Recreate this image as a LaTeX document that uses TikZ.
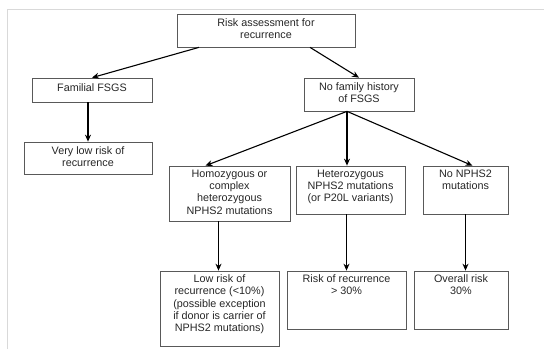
\documentclass[tikz,border=0pt]{standalone}
\usepackage{fontspec}
\setmainfont{Liberation Sans}
\usetikzlibrary{arrows.meta,calc}
\begin{document}
\begin{tikzpicture}[x=1pt,y=-1pt,
  box/.style={draw=black!65,line width=0.7pt,rectangle,inner sep=0pt},
  txt/.style={anchor=north,align=center,inner sep=0pt,font=\fontsize{10.8}{12.3}\selectfont,text=black!85},
  arr/.style={line width=1.1pt,-{Stealth[length=7pt,width=6pt]}}]
\useasboundingbox (0,0) rectangle (544,349);
\draw[black!15,line width=0.8pt] (7,349) -- (7,9) -- (544,9);
% boxes: corners in image pixels
\newcommand{\mkbox}[5]{\node[box,minimum width=#4-#2,minimum height=#5-#3] (#1) at ({(#2+#4)/2},{(#3+#5)/2}) {};}
\mkbox{top}{177}{14}{355}{47}
\mkbox{fam}{32}{78}{152}{102}
\mkbox{nofam}{304}{78}{414}{111}
\mkbox{vlow}{24}{142}{152}{174}
\mkbox{homo}{169}{166}{290}{221}
\mkbox{het}{296}{166}{405}{214}
\mkbox{nonp}{423}{166}{508}{214}
\mkbox{low}{160}{271}{279}{346}
\mkbox{rr}{287}{271}{406}{329}
\mkbox{ov}{414}{271}{508}{329}
% texts
\node[txt] (ttop) at ([yshift=-5pt]top.north) {Risk assessment for\\recurrence};
\node[txt] (tfam) at ([yshift=-6pt]fam.north) {Familial FSGS};
\node[txt] (tnofam) at ([yshift=-5pt]nofam.north) {No family history\\of FSGS};
\node[txt] (tvlow) at ([yshift=-5pt]vlow.north) {Very low risk of\\recurrence};
\node[txt] (thomo) at ([yshift=-4pt]homo.north) {Homozygous or\\complex\\heterozygous\\NPHS2 mutations};
\node[txt] (thet) at ([yshift=-4pt]het.north) {Heterozygous\\NPHS2 mutations\\(or P20L variants)};
\node[txt] (tnonp) at ([yshift=-4pt]nonp.north) {No NPHS2\\mutations};
\node[txt] (tlow) at ([yshift=-4pt]low.north) {Low risk of\\recurrence (<10\%)\\(possible exception\\if donor is carrier of\\NPHS2 mutations)};
\node[txt] (trr) at ([yshift=-4pt]rr.north) {Risk of recurrence\\> 30\%};
\node[txt] (tov) at ([yshift=-4pt]ov.north) {Overall risk\\30\%};
% connectors
\draw[arr] ([xshift=-67pt]top.south) -- (fam.north);
\draw[arr] ([xshift=44pt]top.south) -- (nofam.north);
\draw[arr] (fam.south -| vlow.north) -- (vlow.north);
\draw[arr] ([xshift=-12pt]nofam.south) -- ([xshift=-24pt]homo.north);
\draw[arr] ([xshift=-12pt]nofam.south) -- ([xshift=-12pt]nofam.south |- het.north);
\draw[arr] ([xshift=-12pt]nofam.south) -- ([xshift=7pt]nonp.north);
\draw[arr] ([xshift=-11pt]homo.south) -- ([xshift=-11pt]homo.south |- low.north);
\draw[arr] ([xshift=-4pt]het.south) -- ([xshift=-4pt]het.south |- rr.north);
\draw[arr] (nonp.south) -- (nonp.south |- ov.north);
\end{tikzpicture}
\end{document}
